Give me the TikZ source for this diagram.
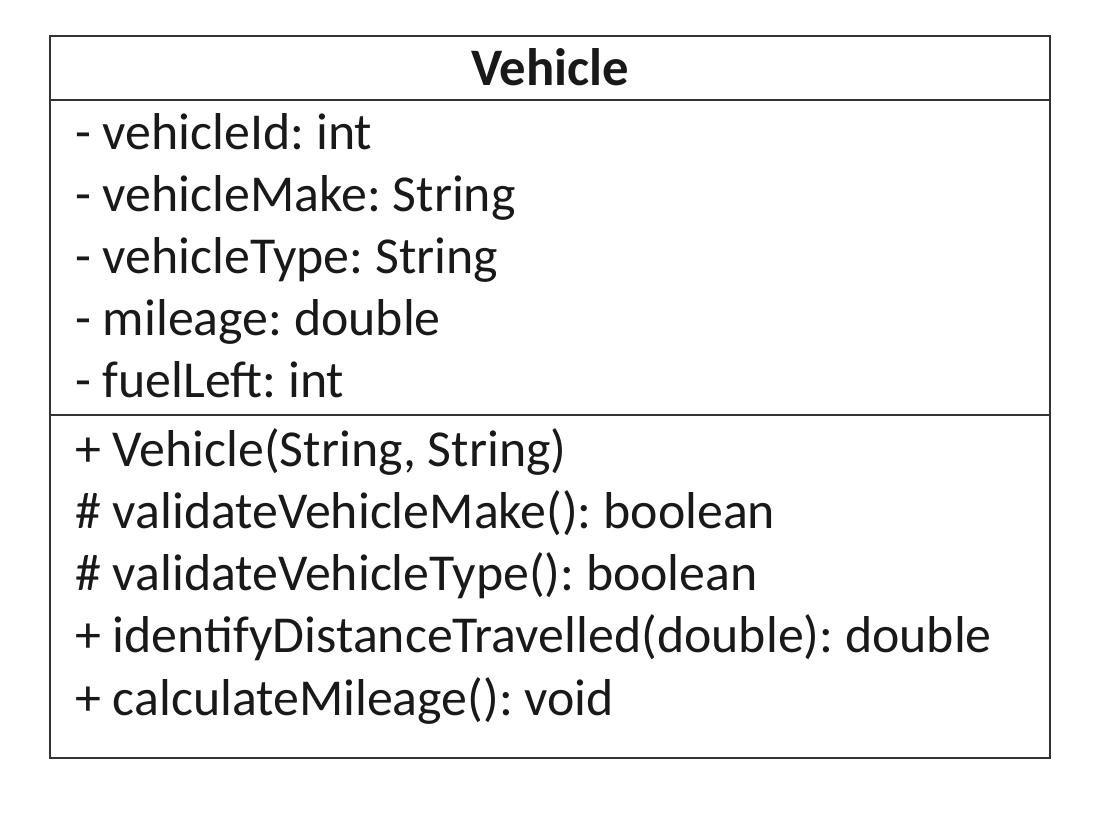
\documentclass[tikz,border=0pt]{standalone}
\usepackage{fontspec}
\setmainfont{Carlito}
\usepackage{tikz}
\frenchspacing
\definecolor{umlline}{rgb}{0.20,0.20,0.20}
\definecolor{umltext}{rgb}{0.10,0.10,0.10}
\tikzstyle{umlbox}=[draw=umlline, line width=1.1pt]
\tikzstyle{umlname}=[anchor=base, inner sep=0pt, text=umltext, font=\fontsize{30}{36}\selectfont\bfseries]
\tikzstyle{umlmember}=[anchor=base west, inner sep=0pt, text=umltext, font=\fontsize{29.5}{36}\selectfont]
\newcommand{\umlmember}[3]{
	\node[umlmember] (#1) at (#2) {#3};}

\begin{document}
\begin{tikzpicture}
	\useasboundingbox (0,0) rectangle (22.16,16.56);
	\coordinate (nw) at (1.0,15.84);
	\coordinate (se) at (21.0,1.40);
	\draw[umlbox] (nw) rectangle (se);
	\draw[umlbox] (1.0,14.56) -- (21.0,14.56);
	\draw[umlbox] (1.0,8.26) -- (21.0,8.26);
	
	\node[umlname] (title) at (11.0,14.84) {Vehicle};
	
	\umlmember{id}{1.5cm,13.56cm}{- vehicleId: int}
	\umlmember{make}{1.5cm,12.32cm}{- vehicleMake: String}
	\umlmember{type}{1.5cm,11.08cm}{- vehicleType: String}
	\umlmember{mileage}{1.5cm,9.84cm}{- mileage: double}
	\umlmember{fuel}{1.5cm,8.60cm}{- fuelLeft: int}
	
	\umlmember{ctor}{1.5cm,7.22cm}{+ Vehicle(String, String)}
	\umlmember{valmake}{1.5cm,5.98cm}{\# validateVehicleMake(): boolean}
	\umlmember{valtype}{1.5cm,4.74cm}{\# validateVehicleType(): boolean}
	\umlmember{distance}{1.5cm,3.50cm}{+ identifyDistanceTravelled(double): double}
	\umlmember{calc}{1.5cm,2.26cm}{+ calculateMileage(): void}
\end{tikzpicture}
\end{document}
